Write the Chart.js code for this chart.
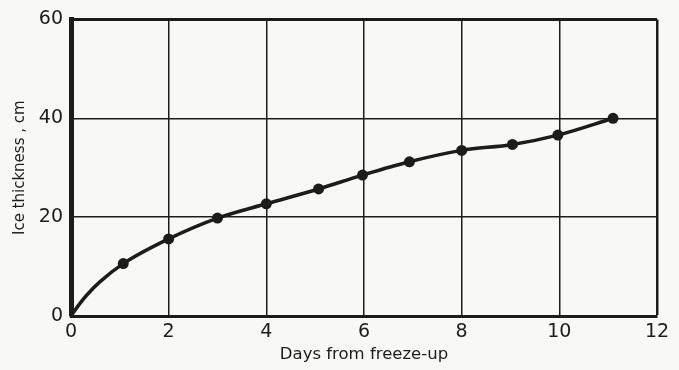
<!DOCTYPE html>
<html>
<head>
<meta charset="utf-8">
<script src="https://cdn.jsdelivr.net/npm/chart.js@4"></script>
<style>
  html, body { margin: 0; padding: 0; background: #f8f8f6; }
  #wrap { width: 679px; height: 370px; }
</style>
</head>
<body>
<div id="wrap"><canvas id="c" width="679" height="370"></canvas></div>
<script>
// Measured points (markers)
const days = [1.07, 2.0, 3.0, 4.0, 5.07, 5.97, 6.93, 8.0, 9.04, 9.97, 11.1];
const thickness = [10.6, 15.6, 19.8, 22.7, 25.7, 28.5, 31.2, 33.5, 34.7, 36.6, 40.0];
// Start of the drawn curve (no markers)
const curveStartDays = [0, 0.18, 0.32, 0.59];
const curveStartThickness = [0, 2.5, 4.2, 6.9];
// Axis ticks
const xTicks = [0, 2, 4, 6, 8, 10, 12];
const yTicks = [0, 20, 40, 60];
const xTitle = 'Days from freeze-up';
const yTitle = 'Ice thickness , cm';

const curveData = curveStartDays.map((d, i) => ({x: d, y: curveStartThickness[i]}))
  .concat(days.map((d, i) => ({x: d, y: thickness[i]})));
const markerData = days.map((d, i) => ({x: d, y: thickness[i]}));

const ink = '#1c1c1c';
const fontFam = '"DejaVu Sans", sans-serif';

new Chart(document.getElementById('c'), {
  type: 'scatter',
  data: {
    datasets: [
      {
        type: 'line',
        data: curveData,
        borderColor: ink,
        borderWidth: 3.5,
        pointRadius: 0,
        cubicInterpolationMode: 'monotone',
        fill: false,
        order: 2
      },
      {
        type: 'scatter',
        data: markerData,
        backgroundColor: ink,
        borderColor: ink,
        borderWidth: 0,
        pointRadius: 5.5,
        order: 1
      }
    ]
  },
  options: {
    responsive: false,
    animation: false,
    devicePixelRatio: 1,
    layout: { padding: { top: 15, right: 22, left: 0, bottom: 0 } },
    plugins: { legend: { display: false }, tooltip: { enabled: false } },
    scales: {
      x: {
        type: 'linear',
        min: 0, max: 12,
        afterBuildTicks: s => { s.ticks = xTicks.map(v => ({value: v})); },
        afterFit: s => { s.height = 54; },
        ticks: { color: ink, font: { family: fontFam, size: 19 }, padding: 5 },
        grid: {
          drawTicks: false,
          color: ink,
          lineWidth: ctx => (ctx.tick && ctx.tick.value === 12 ? 2.5 : 1.5)
        },
        border: { display: true, color: ink, width: 3 },
        title: {
          display: true, text: xTitle, color: ink,
          font: { family: fontFam, size: 16.5 },
          padding: { top: 0, bottom: 5 }
        }
      },
      y: {
        type: 'linear',
        min: 0, max: 60,
        afterBuildTicks: s => { s.ticks = yTicks.map(v => ({value: v})); },
        afterFit: s => { s.width = 71; },
        ticks: { color: ink, font: { family: fontFam, size: 19 }, padding: 8 },
        grid: {
          drawTicks: false,
          color: ink,
          lineWidth: ctx => (ctx.tick && ctx.tick.value === 60 ? 3 : 1.5)
        },
        border: { display: true, color: ink, width: 5 },
        title: {
          display: true, text: yTitle, color: ink,
          font: { family: fontFam, size: 15 },
          padding: { top: 11, bottom: 0 }
        }
      }
    }
  }
});
</script>
</body>
</html>
